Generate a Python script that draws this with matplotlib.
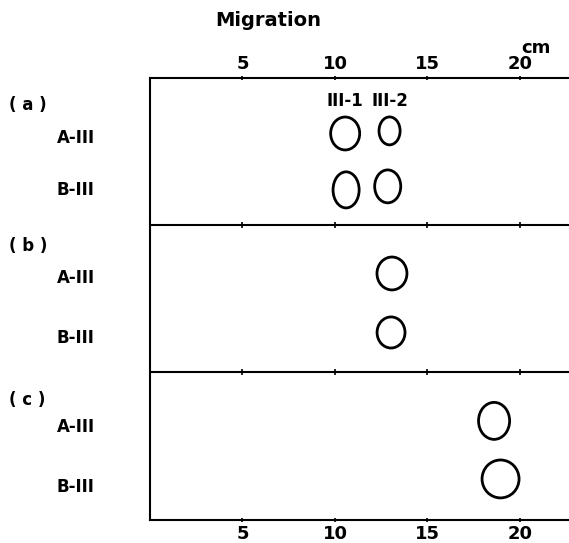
import matplotlib.pyplot as plt
from matplotlib.patches import Ellipse

# Spots: panel, lane, migration (cm), lane position (cm from top), spot width / height (cm)
spot_panel = ["a", "a", "a", "a", "b", "b", "c", "c"]
spot_lane = ["A-III", "A-III", "B-III", "B-III", "A-III", "B-III", "A-III", "B-III"]
spot_x = [10.55, 12.95, 10.6, 12.85, 13.08, 13.03, 18.6, 18.95]
spot_y = [3.0, 2.86, 6.05, 5.86, 10.57, 13.76, 18.54, 21.68]
spot_w = [1.57, 1.14, 1.41, 1.41, 1.62, 1.51, 1.68, 2.0]
spot_h = [1.78, 1.51, 1.95, 1.78, 1.78, 1.68, 2.0, 2.05]

panel_names = ["( a )", "( b )", "( c )"]
panel_label_y = [1.46, 9.08, 17.4]
lane_names = ["A-III", "B-III", "A-III", "B-III", "A-III", "B-III"]
lane_label_y = [3.24, 6.05, 10.81, 14.05, 18.86, 22.1]
dividers = [7.95, 15.9]

band_names = ["III-1", "III-2"]
band_x = [10.55, 12.95]

ticks = [5, 10, 15, 20]
x_max = 22.65
y_max = 23.9

fig = plt.figure(figsize=(5.69, 5.43), dpi=100)
ax = fig.add_axes([150 / 569, 23 / 543, 419 / 569, 442 / 543])
ax.set_xlim(0, x_max)
ax.set_ylim(y_max, 0)

for s in ["left", "top", "bottom"]:
    ax.spines[s].set_linewidth(1.5)
ax.spines["right"].set_visible(False)

ax.set_xticks(ticks)
ax.set_xticklabels([str(t) for t in ticks], fontsize=13, fontweight="bold")
ax.tick_params(axis="x", top=True, labeltop=True, bottom=True, labelbottom=True,
               direction="inout", length=3, width=1.2, pad=2)
ax.set_yticks([])

for d in dividers:
    ax.axhline(d, color="black", lw=1.5)
    ax.plot(ticks, [d] * len(ticks), "|", color="black", ms=4, mew=1.2)

for x, y, w, h in zip(spot_x, spot_y, spot_w, spot_h):
    ax.add_patch(Ellipse((x, y), w, h, fill=False, ec="black", lw=2))

for name, x in zip(band_names, band_x):
    ax.text(x, 1.25, name, ha="center", va="center", fontsize=12, fontweight="bold")

for name, y in zip(panel_names, panel_label_y):
    ax.text(-7.6, y, name, ha="left", va="center", fontsize=12, fontweight="bold",
            clip_on=False)
for name, y in zip(lane_names, lane_label_y):
    ax.text(-5.05, y, name, ha="left", va="center", fontsize=12, fontweight="bold",
            clip_on=False)

fig.text(268 / 569, 1 - 20 / 543, "Migration", ha="center", va="center",
         fontsize=14, fontweight="bold")
fig.text(536 / 569, 1 - 48 / 543, "cm", ha="center", va="center",
         fontsize=13, fontweight="bold")

fig.savefig("out.png", dpi=100)
